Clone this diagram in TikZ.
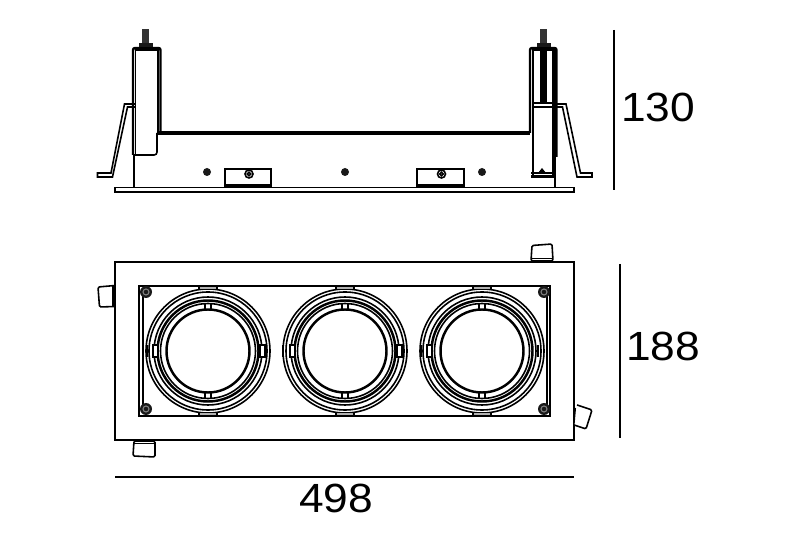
\documentclass[tikz,border=0pt]{standalone}
\usepackage{fontspec}
\setmainfont{Liberation Sans}
\newcommand{\dimnum}[1]{\scalebox{1}[0.92]{#1}}
\tikzset{
	thinline/.style={line width=0.3pt},
	midline/.style={line width=0.45pt},
	heavyline/.style={line width=0.7pt},
	dimtext/.style={font=\fontsize{12.6}{14}\selectfont,inner sep=0pt},
	lugbox/.style={midline,rounded corners=0.4pt,fill=white}
}
\begin{document}
\begin{tikzpicture}[x=0.01cm,y=-0.01cm]
		\useasboundingbox (0,0) rectangle (800,534);
		% side view: base plate and beam
		\draw[midline] (115,187.5) rectangle (574,192);
		\draw[line width=0.9pt] (158,133) -- (530,133);
		\draw[thinline] (134,155) -- (134,188);
		\draw[thinline] (555,48) -- (555,188);
		% side view: left post
		\draw[heavyline,rounded corners=0.6pt] (133,155) -- (133,48) -- (160.5,48) -- (160.5,133);
		\draw[thinline] (135.5,155) -- (135.5,50) -- (158,50) -- (158,133);
		\draw[midline,rounded corners=0.8pt] (133,155) -- (157,155) -- (157,133);
		% side view: right post
		\draw[heavyline,rounded corners=0.6pt] (530,133) -- (530,48) -- (556.5,48) -- (556.5,157);
		\draw[midline] (533,177) -- (533,50) -- (553,50) -- (553,177);
		\fill (540,48) rectangle (547,103);
		\draw[midline] (533,103) rectangle (553,177);
		\draw[thinline] (533,107) -- (553,107);
		\draw[heavyline] (531,173) -- (553,173);
		\draw[heavyline] (531,176.5) -- (553,176.5);
		\fill (538,173) -- (542,168) -- (546,173) -- cycle;
		% side view: studs and nuts
		\foreach \xs in {145.5,543.5} {
			\fill[black!80] (\xs-3.5,29) rectangle (\xs+3.5,43);
			\fill[black!90] (\xs-7,43) rectangle (\xs+7,47);
		}
		% side view: spring brackets
		\draw[midline] (135,104) -- (124.5,104) -- (111,173) -- (97.5,173) -- (97.5,177) -- (112.5,177) -- (127.5,107) -- (135,107);
		\draw[midline] (557,104) -- (566,104) -- (580.5,173) -- (592,173) -- (592,177) -- (577,177) -- (562.5,107) -- (557,107);
		% side view: clip boxes, screws and bolts
		\foreach \xa/\xb in {225/271,417/464} {
			\draw[midline] (\xa,187) -- (\xa,169) -- (\xb,169) -- (\xb,187);
			\draw[line width=0.9pt] (\xa,186) -- (\xb,186);
			\draw[midline] ({(\xa+\xb)/2+1},174) circle (4);
			\draw[midline] ({(\xa+\xb)/2+1},174) circle (1.8);
		}
		\foreach \xs in {207,345,482} {
			\fill[black!90] (\xs,172) circle (4);
		}
		% top view: frame and inner plate
		\draw[heavyline] (115,262) rectangle (574,440);
		\draw[heavyline] (139,286) rectangle (550,416);
		\draw[midline] (143,294) -- (143,408);
		\draw[midline] (547,294) -- (547,408);
		% top view: rings
		\foreach \xc in {208,345,482} {
			\foreach \rr in {62,59,54,47.5} {
				\draw[midline] (\xc,351) circle (\rr);
			}
			\draw[heavyline] (\xc,351) circle (50.5);
			\draw[heavyline] (\xc,351) circle (41.5);
			% notches in the inner ring
			\draw[midline] (\xc-3,304) -- (\xc-3,309.5) (\xc+3,304) -- (\xc+3,309.5);
			\draw[midline] (\xc-3,392.5) -- (\xc-3,398) (\xc+3,392.5) -- (\xc+3,398);
			% tabs on the plate edges
			\draw[thinline,fill=black!30] (\xc-9,286) rectangle (\xc+9,289.5);
			\draw[thinline,fill=black!30] (\xc-9,412.5) rectangle (\xc+9,416);
		}
		% top view: side tabs
		\foreach \xa in {153,260,290,397,427} {
			\draw[thinline,fill=white] (\xa,345) rectangle (\xa+5,357);
		}
		\foreach \xa in {147,283,421,538} {
			\fill (\xa-1.2,345) rectangle (\xa+1.2,357);
		}
		% top view: corner screws
		\foreach \xs/\ys in {146/292,146/409,544/292,544/409} {
			\fill[black!90] (\xs,\ys) circle (6);
			\draw[thinline,black!50] (\xs,\ys) circle (3);
		}
		% top view: lugs
		\draw[lugbox] (531,261) -- (532,245.5) -- (552,244) -- (553,261) -- cycle;
		\draw[thinline] (532,258.5) -- (552,258.5);
		\draw[lugbox] (115,285.5) -- (98,287) -- (99.5,307) -- (115,306.5) -- cycle;
		\draw[thinline] (113,286) -- (113,306);
		\draw[lugbox] (134,441) -- (133,456) -- (155,457) -- (155,441) -- cycle;
		\draw[thinline] (134,443.5) -- (155,443.5);
		\draw[lugbox] (577,405) -- (592,410) -- (586,429) -- (574,425);
		\draw[thinline] (575.5,408) -- (574,425);
		% dimension lines
		\coordinate (h1) at (614,30);
		\coordinate (h2) at (614,190);
		\coordinate (d1) at (620,264);
		\coordinate (d2) at (620,438);
		\coordinate (w1) at (115,477);
		\coordinate (w2) at (574,477);
		\draw[midline] (h1) -- (h2);
		\draw[midline] (d1) -- (d2);
		\draw[midline] (w1) -- (w2);
		\node[dimtext] (heightlabel) at (658,107) {\dimnum{130}};
		\node[dimtext] (depthlabel) at (663,346) {\dimnum{188}};
		\node[dimtext] (widthlabel) at (336,498) {\dimnum{498}};
	\end{tikzpicture}
\end{document}
